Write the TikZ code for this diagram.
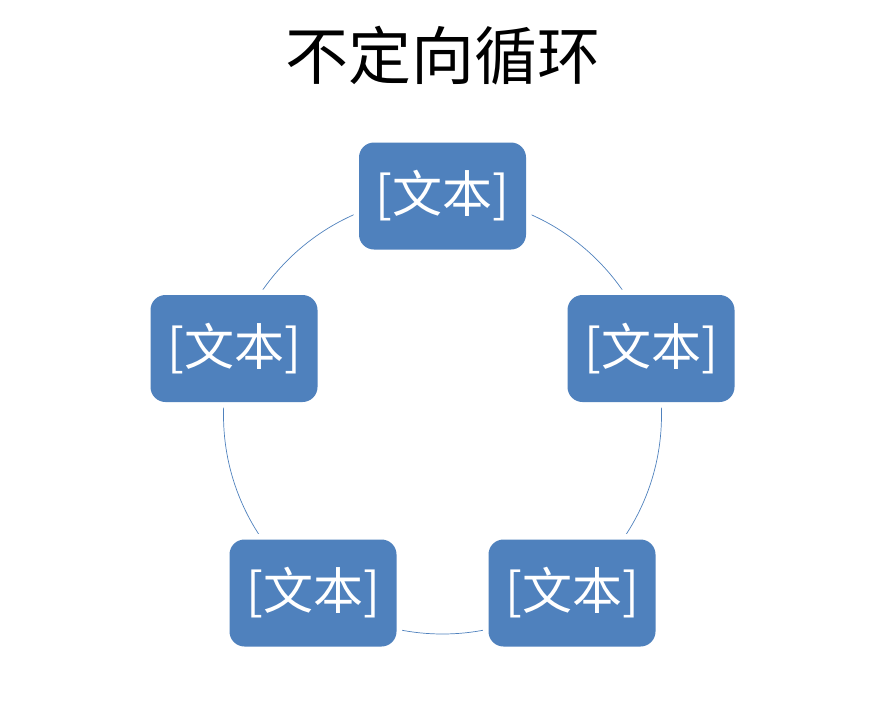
\documentclass[tikz,border=0pt]{standalone}
\usepackage{fontspec}
\newfontfamily\cjk{Noto Sans CJK SC}
\definecolor{boxblue}{HTML}{4F81BD}
\begin{document}
\begin{tikzpicture}[x=1pt,y=-1pt,
  box/.style={rounded corners=15pt, fill=boxblue, minimum width=167pt, minimum height=107pt,
    inner sep=0pt, text=white, font=\cjk\fontsize{50}{56}\selectfont,
    preaction={draw=white, line width=11pt}},
  ring/.style={draw=boxblue, line width=0.7pt}]
\useasboundingbox (0,0) rectangle (889,712);
\node[font=\cjk\fontsize{63}{70}\selectfont] (title) at (442.5,56) {不定向循环};
\coordinate (c) at (442.5,415);
\draw[ring] (c) circle (219);
\node[box] (n1) at (442.5,196) {[文本]};
\node[box] (n2) at (651,348.5) {[文本]};
\node[box] (n3) at (572,593) {[文本]};
\node[box] (n4) at (313,593) {[文本]};
\node[box] (n5) at (234,348.5) {[文本]};
\end{tikzpicture}
\end{document}
